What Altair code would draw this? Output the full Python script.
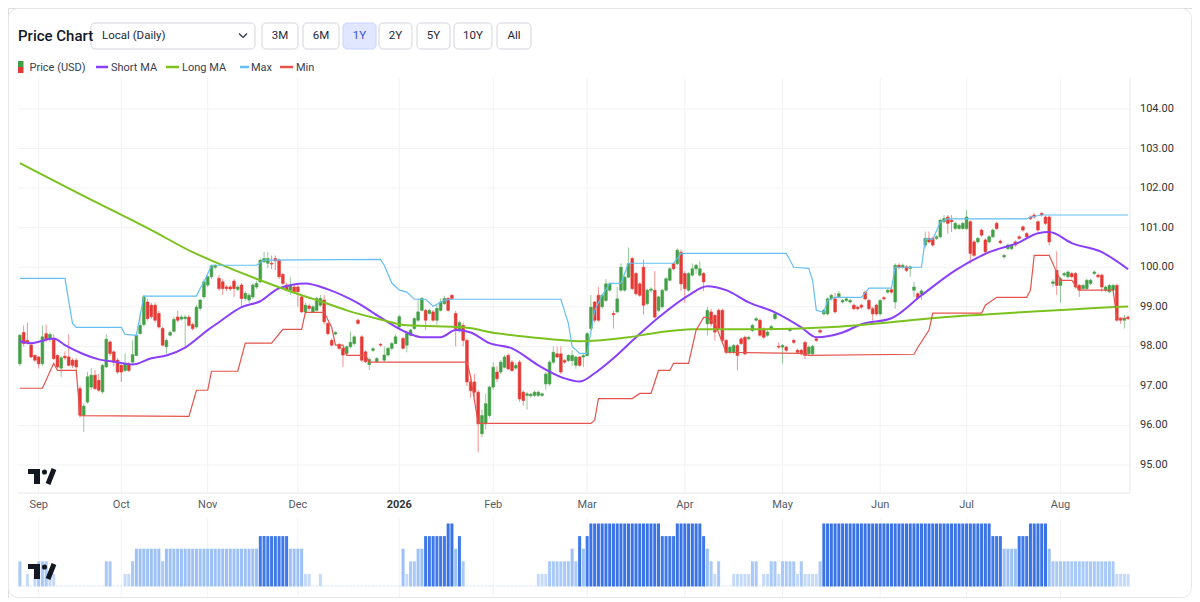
import altair as alt
import pandas as pd

# ---------------- data ----------------
OPEN = [
    97.56, 98.35, 98.15, 98.03, 97.77, 97.73, 97.56, 98.32, 98.18, 98.18,
    97.77, 97.45, 97.75, 97.73, 97.65, 97.65, 96.93, 96.26, 96.59, 96.97,
    97.27, 97.14, 96.85, 97.48, 98.11, 97.86, 97.65, 97.52, 97.39, 97.56,
    97.60, 97.77, 98.32, 98.55, 99.12, 99.04, 99.04, 98.83, 98.45, 97.99,
    98.28, 98.38, 98.74, 98.69, 98.70, 98.74, 98.55, 98.49, 98.96, 99.25,
    99.55, 99.76, 100.00, 99.72, 99.63, 99.50, 99.50, 99.65, 99.44, 99.55,
    99.21, 99.17, 99.25, 99.50, 99.63, 100.14, 100.10, 100.10, 100.22, 100.18,
    99.82, 99.55, 99.42, 99.50, 99.50, 99.25, 98.87, 99.02, 98.87, 98.91,
    99.04, 99.17, 98.58, 98.15, 98.31, 98.05, 97.95, 97.82, 97.99, 98.07,
    98.66, 98.24, 97.86, 97.54, 97.90, 97.61, 98.05, 97.65, 97.78, 97.95,
    98.07, 98.49, 98.20, 98.03, 98.28, 98.45, 98.66, 98.91, 98.91, 98.83,
    98.87, 98.66, 98.91, 99.08, 99.21, 99.29, 98.83, 98.40, 98.53, 98.15,
    97.10, 97.10, 96.84, 95.79, 96.04, 96.25, 96.97, 97.35, 97.35, 97.47,
    97.77, 97.60, 97.45, 97.60, 96.84, 96.76, 96.75, 96.76, 96.76, 96.76,
    97.05, 97.05, 97.60, 97.81, 97.81, 97.64, 97.64, 97.64, 97.52, 97.73,
    97.73, 97.77, 98.45, 99.12, 99.29, 99.00, 99.16, 99.42, 98.83, 98.87,
    99.42, 99.42, 99.75, 100.22, 99.84, 99.58, 100.00, 99.08, 99.42, 99.42,
    98.91, 99.00, 99.42, 99.67, 100.09, 100.09, 100.38, 99.84, 99.42, 99.80,
    99.96, 99.80, 99.84, 98.57, 98.87, 98.78, 98.91, 98.91, 98.15, 97.85,
    97.85, 98.02, 98.19, 98.23, 98.19, 98.40, 98.66, 98.66, 98.44, 98.28,
    98.44, 98.70, 98.00, 97.98, 97.98, 98.40, 98.15, 97.90, 97.90, 98.10,
    97.81, 97.81, 98.19, 98.40, 98.82, 98.82, 99.20, 99.20, 99.25, 99.12,
    99.16, 99.12, 99.04, 98.99, 99.04, 99.37, 99.16, 98.95, 99.04, 98.82,
    99.23, 99.37, 99.43, 99.12, 100.05, 100.00, 100.01, 99.97, 99.42, 99.33,
    99.32, 100.56, 100.73, 100.73, 100.73, 100.77, 101.15, 101.27, 101.19, 100.98,
    100.98, 100.98, 100.98, 101.15, 100.64, 100.64, 100.94, 100.69, 100.64, 100.77,
    101.11, 100.66, 100.26, 100.47, 100.47, 100.64, 100.77, 101.02, 100.85, 101.27,
    101.32, 101.15, 101.36, 101.27, 101.27, 99.59, 99.92, 99.54, 99.80, 99.76,
    99.84, 99.84, 99.54, 99.46, 99.46, 99.59, 99.84, 99.80, 99.80, 99.42,
    99.38, 99.42, 99.54, 98.70, 98.66, 98.74,
]
HIGH = [
    98.32, 98.53, 98.60, 98.10, 97.80, 97.75, 98.53, 98.55, 98.35, 98.30,
    97.80, 97.75, 97.87, 98.30, 97.70, 97.70, 97.00, 96.55, 97.35, 97.45,
    97.40, 97.30, 97.55, 98.30, 98.15, 97.90, 97.70, 97.60, 97.82, 97.60,
    98.15, 98.35, 98.83, 99.30, 99.20, 99.10, 99.10, 98.90, 98.50, 98.20,
    98.40, 98.75, 98.90, 98.80, 98.80, 98.80, 98.60, 99.05, 99.20, 99.70,
    99.80, 100.06, 100.08, 99.80, 99.70, 99.55, 99.55, 99.70, 99.55, 99.60,
    99.40, 99.35, 99.60, 99.65, 100.22, 100.39, 100.39, 100.30, 100.30, 100.22,
    99.85, 99.60, 99.76, 99.55, 99.55, 99.30, 99.10, 99.08, 99.05, 99.25,
    99.30, 99.30, 98.62, 98.20, 98.38, 98.08, 97.98, 98.02, 98.37, 98.28,
    98.70, 98.28, 97.90, 97.72, 97.98, 97.73, 98.08, 98.00, 97.98, 98.12,
    98.30, 98.80, 98.24, 98.36, 98.45, 98.74, 99.21, 99.25, 98.95, 98.95,
    98.92, 99.05, 99.22, 99.28, 99.25, 99.32, 98.90, 98.65, 98.60, 98.20,
    97.20, 97.30, 96.90, 96.40, 96.80, 97.00, 97.60, 97.50, 97.65, 97.78,
    97.82, 97.65, 97.58, 97.65, 96.88, 96.85, 96.82, 96.88, 96.88, 96.83,
    97.35, 97.65, 98.00, 98.00, 98.00, 97.68, 97.80, 97.90, 97.76, 97.76,
    97.80, 98.36, 99.30, 99.15, 99.50, 99.33, 99.70, 99.62, 98.90, 99.50,
    100.10, 99.78, 100.50, 100.26, 99.88, 99.62, 100.20, 99.46, 99.50, 99.90,
    99.28, 99.45, 99.75, 100.00, 100.12, 100.47, 100.45, 99.90, 99.88, 100.10,
    100.08, 100.15, 99.88, 99.00, 98.95, 98.82, 98.95, 98.95, 98.19, 98.02,
    98.06, 98.06, 98.23, 98.27, 98.27, 98.57, 98.74, 98.70, 98.48, 98.40,
    98.54, 98.86, 98.10, 98.06, 98.02, 98.48, 98.19, 97.94, 97.94, 98.14,
    98.02, 98.04, 98.23, 98.44, 98.95, 99.24, 99.33, 99.35, 99.40, 99.20,
    99.24, 99.20, 99.08, 99.03, 99.08, 99.41, 99.20, 98.99, 99.08, 99.20,
    99.27, 99.46, 99.47, 100.10, 100.10, 100.09, 100.05, 100.05, 99.63, 99.37,
    99.44, 100.90, 100.90, 100.77, 100.81, 101.23, 101.32, 101.32, 101.32, 101.15,
    101.10, 101.15, 101.45, 101.19, 100.68, 100.77, 100.98, 100.73, 100.81, 100.98,
    101.15, 100.70, 100.34, 100.60, 100.60, 100.68, 100.81, 101.06, 100.89, 101.31,
    101.36, 101.19, 101.40, 101.31, 101.31, 99.70, 100.40, 99.75, 99.88, 99.92,
    99.88, 99.88, 99.58, 99.58, 99.71, 99.71, 99.92, 99.84, 99.84, 99.54,
    99.58, 99.58, 99.58, 98.74, 98.80, 98.78,
]
LOW = [
    97.50, 98.00, 98.05, 97.70, 97.60, 97.44, 97.50, 98.10, 98.10, 97.65,
    97.45, 97.22, 97.65, 97.50, 97.45, 97.40, 96.20, 95.83, 96.55, 96.90,
    96.90, 96.85, 96.80, 97.45, 97.75, 97.50, 97.30, 97.10, 97.35, 97.35,
    97.55, 97.75, 98.30, 98.50, 98.65, 98.70, 98.60, 98.45, 98.00, 97.80,
    98.25, 98.35, 98.60, 98.65, 97.99, 98.50, 98.40, 98.45, 98.90, 99.20,
    99.50, 99.70, 99.95, 99.40, 99.30, 99.40, 99.40, 99.25, 99.40, 99.00,
    99.15, 99.10, 99.20, 99.45, 99.60, 100.10, 99.97, 99.95, 99.93, 99.70,
    99.55, 99.40, 99.30, 99.35, 99.00, 98.85, 98.80, 98.90, 98.85, 98.88,
    99.00, 98.55, 98.28, 98.00, 98.28, 97.90, 97.48, 97.78, 97.95, 98.02,
    98.55, 97.60, 97.58, 97.40, 97.85, 97.58, 97.99, 97.60, 97.74, 97.90,
    98.05, 98.46, 97.92, 97.85, 98.25, 98.42, 98.62, 98.88, 98.41, 98.80,
    98.62, 98.55, 98.88, 99.05, 98.88, 99.18, 98.00, 98.35, 98.00, 97.00,
    96.70, 96.70, 95.32, 95.70, 95.90, 96.20, 96.90, 97.10, 97.30, 97.44,
    97.40, 97.35, 97.40, 96.60, 96.50, 96.40, 96.70, 96.72, 96.72, 96.72,
    96.90, 97.00, 97.55, 97.70, 97.30, 97.56, 97.60, 97.50, 97.43, 97.48,
    97.47, 97.74, 98.40, 98.60, 98.62, 98.95, 99.12, 99.38, 98.45, 98.84,
    99.38, 99.38, 99.72, 99.42, 99.28, 99.25, 98.80, 99.04, 99.35, 98.70,
    98.87, 98.96, 99.38, 99.64, 99.92, 100.05, 99.40, 99.10, 99.38, 99.76,
    99.84, 99.76, 99.40, 98.27, 98.50, 98.15, 98.40, 98.10, 97.80, 97.80,
    97.80, 97.39, 98.03, 97.77, 98.15, 98.36, 98.62, 98.24, 98.19, 98.24,
    98.40, 98.66, 97.94, 97.56, 97.86, 98.36, 98.06, 97.81, 97.77, 97.68,
    97.77, 97.77, 98.11, 98.32, 98.78, 98.78, 99.16, 98.83, 99.21, 99.08,
    99.12, 99.08, 98.91, 98.91, 98.95, 99.16, 98.91, 98.65, 98.78, 98.78,
    99.16, 99.33, 99.33, 98.95, 99.95, 99.96, 99.88, 99.76, 99.25, 99.18,
    99.17, 100.47, 100.60, 100.52, 100.69, 100.73, 101.11, 100.85, 100.89, 100.94,
    100.94, 100.94, 100.94, 100.09, 100.26, 100.60, 100.77, 100.35, 100.60, 100.73,
    100.94, 100.58, 100.22, 100.43, 100.43, 100.52, 100.69, 100.90, 100.73, 101.19,
    101.23, 100.90, 101.28, 101.07, 100.55, 99.50, 99.30, 99.10, 99.76, 99.72,
    99.72, 99.46, 99.25, 99.42, 99.42, 99.55, 99.80, 99.72, 99.38, 99.38,
    99.34, 99.38, 98.62, 98.57, 98.45, 98.66,
]
CLOSE = [
    98.28, 98.07, 98.10, 97.73, 97.65, 97.56, 98.24, 98.18, 98.30, 97.69,
    97.48, 97.71, 97.71, 97.52, 97.52, 97.48, 96.26, 96.49, 97.23, 97.27,
    96.93, 96.89, 97.52, 98.18, 97.82, 97.60, 97.35, 97.35, 97.56, 97.39,
    97.79, 98.28, 98.53, 99.25, 98.70, 98.75, 98.66, 98.49, 98.03, 98.15,
    98.35, 98.68, 98.66, 98.74, 98.74, 98.53, 98.45, 98.99, 99.17, 99.63,
    99.76, 100.04, 100.04, 99.46, 99.46, 99.46, 99.45, 99.46, 99.50, 99.21,
    99.34, 99.29, 99.55, 99.59, 100.18, 100.22, 100.22, 100.08, 100.16, 99.76,
    99.59, 99.42, 99.53, 99.38, 99.38, 98.87, 99.04, 98.96, 99.00, 99.21,
    99.21, 98.62, 98.32, 98.03, 98.35, 97.95, 97.78, 97.99, 98.10, 98.24,
    98.58, 97.65, 97.61, 97.67, 97.94, 97.69, 98.03, 97.78, 97.95, 98.07,
    98.24, 98.75, 97.95, 98.32, 98.41, 98.70, 98.87, 99.21, 98.66, 98.91,
    98.66, 98.96, 99.12, 99.21, 98.91, 99.21, 98.45, 98.60, 98.15, 97.10,
    96.88, 96.84, 96.04, 96.25, 96.55, 96.97, 97.47, 97.18, 97.60, 97.73,
    97.43, 97.39, 97.52, 96.67, 96.63, 96.80, 96.79, 96.84, 96.84, 96.80,
    97.30, 97.60, 97.85, 97.73, 97.35, 97.60, 97.77, 97.77, 97.73, 97.52,
    97.77, 98.32, 98.99, 98.66, 98.66, 99.29, 99.58, 99.58, 98.80, 99.20,
    100.00, 99.75, 100.09, 99.46, 99.33, 99.29, 99.04, 99.42, 99.45, 98.74,
    99.25, 99.42, 99.71, 99.96, 99.96, 100.43, 99.58, 99.46, 99.84, 99.96,
    100.05, 99.96, 99.63, 98.91, 98.57, 98.36, 98.44, 98.15, 97.85, 97.98,
    98.02, 97.77, 98.07, 97.81, 98.23, 98.53, 98.70, 98.28, 98.23, 98.36,
    98.50, 98.82, 97.98, 98.02, 97.90, 98.44, 98.10, 97.85, 97.81, 97.77,
    97.98, 98.00, 98.15, 98.36, 98.91, 99.20, 99.29, 98.87, 99.33, 99.16,
    99.20, 99.16, 98.95, 98.95, 98.99, 99.20, 98.95, 98.82, 98.82, 99.16,
    99.20, 99.42, 99.37, 100.05, 100.00, 100.05, 99.92, 100.01, 99.50, 99.22,
    99.40, 100.73, 100.64, 100.56, 100.77, 101.19, 101.23, 101.11, 101.15, 101.11,
    101.06, 101.11, 101.27, 100.35, 100.30, 100.73, 100.81, 100.39, 100.77, 100.94,
    100.98, 100.62, 100.30, 100.56, 100.56, 100.56, 100.73, 100.94, 100.77, 101.23,
    101.27, 100.94, 101.32, 101.11, 100.64, 99.63, 99.54, 99.71, 99.84, 99.88,
    99.76, 99.50, 99.42, 99.54, 99.67, 99.67, 99.88, 99.76, 99.50, 99.50,
    99.54, 99.54, 98.66, 98.66, 98.70, 98.70,
]

# bottom activity panel: level of each bar (0 = empty)
VOL_LEVEL = [
    2, 0, 1, 0, 1, 2, 2, 2, 1, 1,
    0, 0, 0, 0, 0, 0, 0, 0, 0, 0,
    0, 0, 0, 2, 2, 0, 0, 0, 1, 1,
    2, 3, 3, 3, 3, 3, 3, 3, 2, 3,
    3, 3, 3, 3, 3, 3, 3, 3, 3, 3,
    3, 3, 3, 3, 3, 3, 3, 3, 3, 3,
    3, 3, 3, 3, 4, 4, 4, 4, 4, 4,
    4, 4, 3, 3, 3, 3, 1, 1, 0, 0,
    1, 0, 0, 0, 0, 0, 0, 0, 0, 0,
    0, 0, 0, 0, 0, 0, 0, 0, 0, 0,
    0, 0, 3, 1, 2, 2, 3, 3, 4, 4,
    4, 4, 4, 4, 5, 5, 3, 4, 2, 0,
    0, 0, 0, 0, 0, 0, 0, 0, 0, 0,
    0, 0, 0, 0, 0, 0, 0, 0, 1, 1,
    1, 2, 2, 2, 2, 2, 2, 3, 2, 4,
    3, 4, 5, 5, 5, 5, 5, 5, 5, 5,
    5, 5, 5, 5, 5, 5, 5, 5, 5, 5,
    5, 4, 4, 4, 4, 5, 5, 5, 5, 5,
    5, 5, 4, 3, 2, 1, 2, 0, 0, 0,
    1, 1, 1, 1, 1, 2, 2, 0, 1, 1,
    2, 2, 1, 2, 2, 2, 2, 1, 2, 1,
    1, 1, 1, 2, 5, 5, 5, 5, 5, 5,
    5, 5, 5, 5, 5, 5, 5, 5, 5, 5,
    5, 5, 5, 5, 5, 5, 5, 5, 5, 5,
    5, 5, 5, 5, 5, 5, 5, 5, 5, 5,
    5, 5, 5, 5, 5, 5, 5, 5, 5, 4,
    4, 4, 3, 3, 3, 3, 4, 4, 4, 5,
    5, 5, 5, 5, 3, 2, 2, 2, 2, 2,
    2, 2, 2, 2, 2, 2, 2, 2, 2, 2,
    2, 2, 1, 1, 1, 1,
]

SHORT_MA_IDX = [0, 3, 9, 12, 17, 21, 26, 30, 35, 39, 44, 50, 53, 59, 64, 69, 76, 82,
                90, 96, 103, 107, 112, 116, 120, 125, 131, 138, 145, 149, 153, 158,
                164, 170, 178, 183, 188, 194, 201, 208, 212, 219, 224, 232, 240, 249,
                258, 266, 271, 274, 280, 288, 295]
SHORT_MA = [98.13, 98.08, 98.20, 98.03, 97.80, 97.67, 97.60, 97.54, 97.70, 97.77,
            97.97, 98.41, 98.61, 98.99, 99.14, 99.47, 99.59, 99.44, 99.09, 98.73,
            98.35, 98.23, 98.23, 98.41, 98.35, 98.08, 97.95, 97.52, 97.19, 97.11,
            97.32, 97.70, 98.23, 98.73, 99.29, 99.52, 99.42, 99.11, 98.86, 98.48,
            98.23, 98.35, 98.56, 98.71, 99.29, 99.92, 100.38, 100.63, 100.86, 100.89,
            100.61, 100.38, 99.95]

LONG_MA_IDX = [0, 16, 35, 46, 52, 64, 75, 81, 87, 96, 103, 118, 127, 136, 149, 162,
               170, 179, 197, 215, 232, 245, 258, 271, 285, 295]
LONG_MA = [102.63, 101.85, 100.94, 100.38, 100.13, 99.67, 99.29, 99.11, 98.91, 98.68,
           98.53, 98.48, 98.33, 98.23, 98.13, 98.23, 98.35, 98.43, 98.43, 98.48,
           98.61, 98.73, 98.81, 98.89, 98.96, 99.01]

MAX_IDX = [0, 12, 14, 15, 27, 28, 31, 33, 47, 48, 49, 51, 63, 65, 96, 97, 99, 101,
           103, 105, 108, 110, 113, 115, 144, 146, 147, 149, 151, 153, 155, 157,
           160, 162, 174, 176, 204, 206, 210, 211, 212, 214, 215, 217, 224, 226,
           232, 233, 240, 241, 243, 245, 247, 268, 269, 272, 295]
MAX_VAL = [99.72, 99.72, 98.58, 98.48, 98.48, 98.30, 98.28, 99.27, 99.27, 99.47,
           99.62, 100.05, 100.05, 100.18, 100.20, 100.05, 99.60, 99.42, 99.37, 99.19,
           99.19, 99.01, 99.16, 99.19, 99.19, 98.58, 98.00, 97.82, 97.82, 98.91,
           99.29, 99.59, 99.60, 100.10, 100.10, 100.35, 100.35, 100.00, 99.97, 99.67,
           98.91, 98.86, 99.16, 99.24, 99.24, 99.47, 99.47, 100.00, 100.00, 100.71,
           100.71, 101.14, 101.22, 101.22, 101.27, 101.32, 101.32]

MIN_IDX = [0, 6, 9, 10, 15, 16, 45, 47, 50, 51, 58, 60, 67, 70, 75, 76, 81, 83, 84,
           86, 87, 92, 93, 119, 120, 122, 152, 153, 154, 163, 165, 168, 170, 173,
           174, 178, 180, 182, 183, 185, 188, 208, 210, 238, 239, 242, 243, 256,
           257, 260, 268, 269, 270, 274, 276, 277, 280, 282, 291, 292, 295]
MIN_VAL = [96.94, 96.94, 97.57, 97.39, 97.39, 96.25, 96.23, 96.89, 96.89, 97.37,
           97.37, 98.08, 98.08, 98.43, 98.43, 98.86, 98.86, 98.48, 98.03, 98.03,
           97.77, 97.77, 97.60, 97.60, 97.22, 96.05, 96.05, 96.13, 96.68, 96.68,
           96.81, 96.81, 97.39, 97.39, 97.57, 97.57, 98.41, 98.73, 98.73, 98.58,
           97.85, 97.82, 97.77, 97.80, 97.97, 98.41, 98.84, 98.84, 99.04, 99.24,
           99.24, 99.42, 100.30, 100.30, 99.87, 99.67, 99.67, 99.42, 99.42, 98.71,
           98.71]

MONTH_IDX = [5, 27, 50, 74, 101, 126, 151, 177, 203, 229, 252, 277]
MONTH_LABELS = ["Sep", "Oct", "Nov", "Dec", "2026", "Feb", "Mar", "Apr", "May",
                "Jun", "Jul", "Aug"]
YEAR_LABEL = "2026"
Y_TICKS = [95, 96, 97, 98, 99, 100, 101, 102, 103, 104]

TITLE = "Price Chart"
DROPDOWN = "Local (Daily)"
RANGE_BUTTONS = ["3M", "6M", "1Y", "2Y", "5Y", "10Y", "All"]
SELECTED = "1Y"
LEGEND = ["Price (USD)", "Short MA", "Long MA", "Max", "Min"]

# ---------------- styles / layout ----------------
FONT = "Roboto"
GREEN = "#43a047"
RED = "#e53935"
SHORT_C = "#8a3ffc"
LONG_C = "#7cc21f"
MAX_C = "#64bff3"
MIN_C = "#e5534b"
GRID = "#f1f2f4"
BORDER = "#e5e7eb"
LEVEL_COLORS = {0: "#dce8fd", 1: "#c5dafb", 2: "#a9c9f8", 3: "#9dc1f6",
                4: "#3f79e9", 5: "#3a73e6"}

BUTTON_X = [(254, 290), (295, 331), (335, 368), (371, 404), (409, 442),
            (446, 484), (489, 523)]
LEGEND_LINE_X = [None, (88, 100), (158, 171), (232, 241), (272, 285)]
LEGEND_TEXT_X = [21.5, 103, 174, 243, 288]
LEGEND_COLORS = [None, SHORT_C, LONG_C, MAX_C, MIN_C]

W, H = 1184, 590
X_SCALE = alt.Scale(domain=[-0.5, 295.5], range=[10, 1122], nice=False, zero=False)
P_SCALE = alt.Scale(domain=[94.292, 104.784], range=[485, 70], nice=False, zero=False)
V_SCALE = alt.Scale(domain=[0, 5], range=[578.5, 515.5], nice=False, zero=False)

ONE = pd.DataFrame({"k": [0]})


def ui_rect(x, x2, y, y2, **kw):
    return alt.Chart(ONE).mark_rect(**kw).encode(
        x=alt.value(x), x2=alt.value(x2), y=alt.value(y), y2=alt.value(y2))


def ui_text(x, y, text, **kw):
    base = dict(font=FONT, baseline="middle", align="left")
    base.update(kw)
    return alt.Chart(ONE).mark_text(text=text, **base).encode(
        x=alt.value(x), y=alt.value(y))


def ui_rule(x, y, x2, y2, **kw):
    return alt.Chart(ONE).mark_rule(**kw).encode(
        x=alt.value(x), y=alt.value(y), x2=alt.value(x2), y2=alt.value(y2))


# ---------------- price panel ----------------
n = len(CLOSE)
candles = pd.DataFrame({"idx": list(range(n)), "open": OPEN, "high": HIGH,
                        "low": LOW, "close": CLOSE})
up_color = alt.when(alt.datum.close >= alt.datum.open).then(
    alt.value(GREEN)).otherwise(alt.value(RED))

ygrid_df = pd.DataFrame({"p": Y_TICKS})
ygrid = alt.Chart(ygrid_df).mark_rule(color=GRID, strokeWidth=1).encode(
    y=alt.Y("p:Q", scale=P_SCALE, axis=None), x=alt.value(10), x2=alt.value(1122))
ylabels = alt.Chart(ygrid_df).mark_text(
    font=FONT, fontSize=11, color="#333333", align="left", baseline="middle"
).encode(y=alt.Y("p:Q", scale=P_SCALE, axis=None), x=alt.value(1132),
         text=alt.Text("p:Q", format=".2f"))

months = pd.DataFrame({"m": MONTH_IDX, "label": MONTH_LABELS})
mgrid_main = alt.Chart(months).mark_rule(color=GRID, strokeWidth=1).encode(
    x=alt.X("m:Q", scale=X_SCALE, axis=None), y=alt.value(70), y2=alt.value(485))
mgrid_vol = alt.Chart(months).mark_rule(color=GRID, strokeWidth=1).encode(
    x=alt.X("m:Q", scale=X_SCALE, axis=None), y=alt.value(510), y2=alt.value(589))
mlabels = alt.Chart(months).transform_filter(alt.datum.label != YEAR_LABEL).mark_text(
    font=FONT, fontSize=11, color="#555b66", align="center", baseline="middle"
).encode(x=alt.X("m:Q", scale=X_SCALE, axis=None), y=alt.value(497), text="label:N")
ylab = alt.Chart(months).transform_filter(alt.datum.label == YEAR_LABEL).mark_text(
    font=FONT, fontSize=11, fontWeight="bold", color="#333333", align="center",
    baseline="middle"
).encode(x=alt.X("m:Q", scale=X_SCALE, axis=None), y=alt.value(497), text="label:N")

wicks = alt.Chart(candles).mark_rule(strokeWidth=1, opacity=0.55).encode(
    x=alt.X("idx:Q", scale=X_SCALE, axis=None),
    y=alt.Y("low:Q", scale=P_SCALE, axis=None), y2="high:Q",
    color=up_color)
bodies = alt.Chart(candles).transform_calculate(
    xa="datum.idx - 0.36", xb="datum.idx + 0.36"
).mark_rect(strokeWidth=0.6).encode(
    x=alt.X("xa:Q", scale=X_SCALE, axis=None), x2="xb:Q",
    y=alt.Y("open:Q", scale=P_SCALE, axis=None), y2="close:Q",
    color=up_color, stroke=up_color)


def series(idx, vals, color, width, interp):
    df = pd.DataFrame({"idx": idx, "v": vals})
    return alt.Chart(df).mark_line(color=color, strokeWidth=width,
                                   interpolate=interp).encode(
        x=alt.X("idx:Q", scale=X_SCALE, axis=None),
        y=alt.Y("v:Q", scale=P_SCALE, axis=None))


short_line = series(SHORT_MA_IDX, SHORT_MA, SHORT_C, 2, "monotone")
long_line = series(LONG_MA_IDX, LONG_MA, LONG_C, 2, "monotone")
max_line = series(MAX_IDX, MAX_VAL, MAX_C, 1.2, "linear")
min_line = series(MIN_IDX, MIN_VAL, MIN_C, 1.2, "linear")

price_layer = alt.layer(ygrid, mgrid_main, ylabels, wicks, bodies, short_line,
                        long_line, max_line, min_line)

# ---------------- activity panel ----------------
vol = pd.DataFrame({"idx": list(range(n)), "level": VOL_LEVEL})
vol["shown"] = vol["level"].clip(lower=0.08)
vol["col"] = vol["level"].map(LEVEL_COLORS)
vol_bars = alt.Chart(vol).transform_calculate(
    xa="datum.idx - 0.4", xb="datum.idx + 0.4"
).mark_rect().encode(
    x=alt.X("xa:Q", scale=X_SCALE, axis=None), x2="xb:Q",
    y=alt.Y("shown:Q", scale=V_SCALE, axis=None), y2=alt.datum(0),
    color=alt.Color("col:N", scale=None, legend=None))
vol_layer = alt.layer(mgrid_vol, vol_bars)

# ---------------- header / decorations ----------------
parts = []
parts.append(ui_rect(83, 247, 15, 41, fill="white", stroke="#d1d5db",
                     strokeWidth=1, cornerRadius=4))
parts.append(ui_text(10, 28, TITLE, fontSize=15, fontWeight=500, color="#111827"))
parts.append(ui_text(94, 28, DROPDOWN, fontSize=11.5, color="#1f2937"))
parts.append(ui_rule(231, 25.5, 235, 29.5, color="#374151", strokeWidth=1.4))
parts.append(ui_rule(235, 29.5, 239, 25.5, color="#374151", strokeWidth=1.4))
for label, (bx0, bx1) in zip(RANGE_BUTTONS, BUTTON_X):
    sel = label == SELECTED
    parts.append(ui_rect(bx0, bx1, 15, 41, fill="#e0e7ff" if sel else "white",
                         stroke="#c7d2fe" if sel else "#d1d5db", strokeWidth=1,
                         cornerRadius=4))
    parts.append(ui_text((bx0 + bx1) / 2, 28, label, fontSize=11.5, align="center",
                         color="#3b4fd8" if sel else "#1f2937"))
# legend
parts.append(ui_rect(10, 15.5, 53, 59, fill=GREEN))
parts.append(ui_rect(10, 15.5, 59, 65, fill=RED))
for i, name in enumerate(LEGEND):
    if LEGEND_LINE_X[i] is not None:
        lx0, lx1 = LEGEND_LINE_X[i]
        parts.append(ui_rule(lx0, 59, lx1, 59, color=LEGEND_COLORS[i], strokeWidth=2.5))
    parts.append(ui_text(LEGEND_TEXT_X[i], 59.5, name, fontSize=11, color="#374151"))
# plot frame
parts.append(ui_rule(1122, 70, 1122, 485, color=BORDER, strokeWidth=1))
parts.append(ui_rule(10, 485, 1122, 485, color=BORDER, strokeWidth=1))


def logo(y0):
    return [
        ui_rect(20, 32, y0, y0 + 5, fill="#131722"),
        ui_rect(26, 32, y0, y0 + 15, fill="#131722"),
        alt.Chart(ONE).mark_circle(size=26, color="#131722", opacity=1).encode(
            x=alt.value(36.5), y=alt.value(y0 + 3)),
        ui_rule(46, y0, 40, y0 + 15, color="#131722", strokeWidth=5),
    ]


card = ui_rect(0.5, 1183.5, 0.5, 589.5, fill="white", stroke=BORDER,
               strokeWidth=1, cornerRadius=10)

chart = alt.layer(
    card, price_layer, vol_layer, mlabels, ylab, *parts, *logo(461), *logo(556)
).resolve_scale(y="independent").properties(
    width=W, height=H, autosize=alt.AutoSizeParams(type="none"), padding=0
).configure_view(strokeWidth=0).configure(background="white")

chart.save("out.html", embed_options={"renderer": "svg", "actions": False})
